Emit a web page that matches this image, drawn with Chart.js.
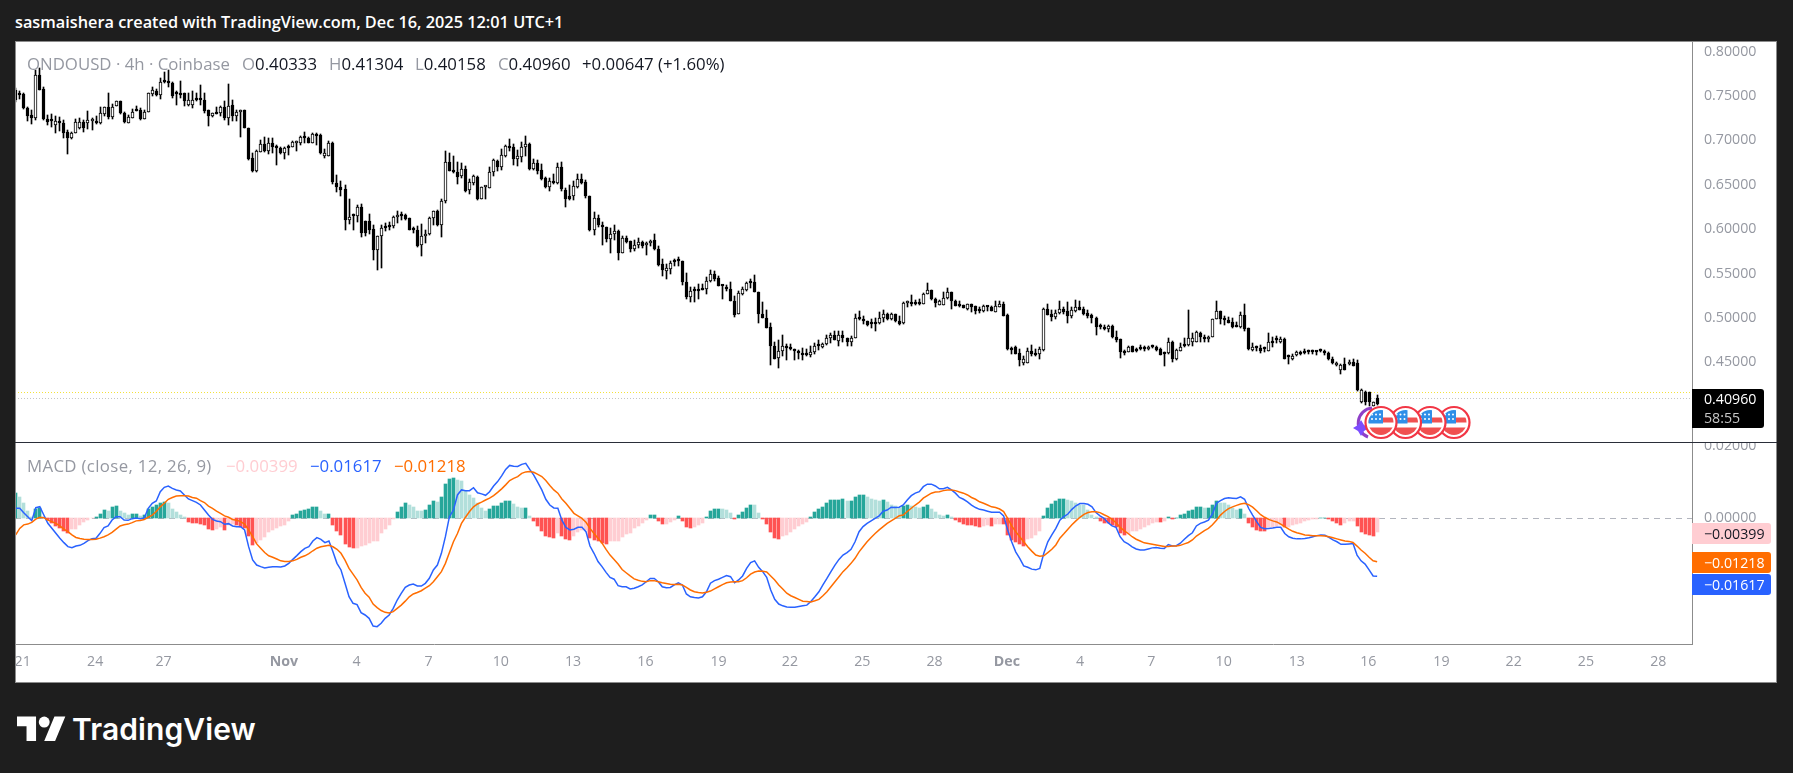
<!DOCTYPE html>
<html><head><meta charset="utf-8">
<script src="https://cdn.jsdelivr.net/npm/chart.js@4"></script>
<style>
html,body{margin:0;padding:0;background:#1e1e1e;width:1793px;height:773px;overflow:hidden;font-family:"Open Sans",sans-serif}
canvas{position:absolute;display:block}
.t{position:absolute;white-space:pre;line-height:1}
#box{position:absolute;left:15px;top:41px;width:1762px;height:642px;background:#fff;box-sizing:border-box}
.edge{position:absolute;background:#8c8c8c}
.tag{position:absolute;left:1692px;border-radius:0 3px 3px 0;font:14.2px "Open Sans",sans-serif;box-sizing:border-box;padding-left:12px}
.lg{font:16.8px "Open Sans",sans-serif;top:52px}
.lm{font:16.8px "Open Sans",sans-serif;top:454px}
</style></head><body>
<div id="box"></div>
<canvas id="priceC" width="1762" height="401" style="left:15px;top:41px"></canvas>
<canvas id="macdC" width="1762" height="241" style="left:15px;top:443px"></canvas>
<div class="edge" style="left:15px;top:41px;width:1762px;height:1px"></div>
<div class="edge" style="left:15px;top:682px;width:1762px;height:1px"></div>
<div class="edge" style="left:15px;top:41px;width:1px;height:642px"></div>
<div class="edge" style="left:1776px;top:41px;width:1px;height:642px"></div>
<div class="edge" style="left:15px;top:442px;width:1762px;height:1px;background:#2a2e39"></div>

<div class="t" style="left:15px;top:11px;color:#fff;font:600 16.3px 'Open Sans',sans-serif">sasmaishera created with TradingView.com, Dec 16, 2025 12:01 UTC+1</div>

<div class="t lg" style="left:27px;color:#9598a1">ONDOUSD · 4h · Coinbase</div>
<div class="t lg" style="left:242px;color:#9598a1">O<span style="color:#131722">0.40333</span></div>
<div class="t lg" style="left:329px;color:#9598a1">H<span style="color:#131722">0.41304</span></div>
<div class="t lg" style="left:415px;color:#9598a1">L<span style="color:#131722">0.40158</span></div>
<div class="t lg" style="left:498px;color:#9598a1">C<span style="color:#131722">0.40960</span></div>
<div class="t lg" style="left:582px;color:#131722">+0.00647 (+1.60%)</div>

<div class="t lm" style="left:27px;color:#9598a1;letter-spacing:.35px">MACD (close, 12, 26, 9)</div>
<div class="t lm" style="left:226px;color:#ffcdd2">−0.00399</div>
<div class="t lm" style="left:310px;color:#2962ff">−0.01617</div>
<div class="t lm" style="left:394px;color:#ff6d00">−0.01218</div>

<div class="tag" style="top:389px;width:72px;height:39px;background:#000;color:#fff">
  <div class="t" style="top:3px;left:12px">0.40960</div><div class="t" style="top:22px;left:12px;color:#c8c8c8">58:55</div>
</div>
<div class="tag" style="top:523px;width:79px;height:21px;background:#ffcdd2;color:#131722;line-height:21px">−0.00399</div>
<div class="tag" style="top:552px;width:79px;height:21px;background:#ff6d00;color:#fff;line-height:21px">−0.01218</div>
<div class="tag" style="top:574px;width:79px;height:21px;background:#2962ff;color:#fff;line-height:21px">−0.01617</div>

<svg style="position:absolute;left:1345px;top:400px" width="130" height="45" viewBox="1345 400 130 45" xmlns="http://www.w3.org/2000/svg">
  <defs>
    <g id="usflag">
      <circle r="15.5" fill="#fff" stroke="#f23645" stroke-width="2.2"/>
      <clipPath id="fc"><circle r="12.5"/></clipPath>
      <g clip-path="url(#fc)">
        <rect x="-13" y="-13" width="26" height="26" fill="#fff"/>
        <rect x="-13" y="-5" width="26" height="5" fill="#f05050"/>
        <rect x="-13" y="5" width="26" height="9" fill="#f05050"/>
        <rect x="-13" y="-13" width="15" height="14" fill="#2f8fe8"/>
        <g fill="#fff"><circle cx="-9" cy="-8" r="1"/><circle cx="-5" cy="-8" r="1"/><circle cx="-1" cy="-8" r="1"/><circle cx="-9" cy="-3.5" r="1"/><circle cx="-5" cy="-3.5" r="1"/><circle cx="-1" cy="-3.5" r="1"/></g>
      </g>
    </g>
  </defs>
  <path d="M1368 437 A15 15 0 0 1 1372 408" fill="none" stroke="#8e3fc8" stroke-width="3"/>
  <path d="M1361 420 L1364 425 L1369 428 L1364 431 L1361 436 L1358 431 L1353 428 L1358 425 Z" fill="#7c4dff"/>
  <use href="#usflag" x="1454" y="422.5"/>
  <use href="#usflag" x="1430" y="422.5"/>
  <use href="#usflag" x="1405.5" y="422.5"/>
  <use href="#usflag" x="1381" y="422.5"/>
</svg>

<svg style="position:absolute;left:17px;top:711px" width="49" height="33" viewBox="0 0 36 24" xmlns="http://www.w3.org/2000/svg" fill="#fff">
  <path d="M14 22H7V11H0V4h14v18zM28 22h-8l7.5-18h8L28 22z"/><circle cx="20" cy="8" r="4"/>
</svg>
<div class="t" style="left:72px;top:711px;color:#fff;font:600 30px Inter,sans-serif;letter-spacing:.1px">TradingView</div>

<script>
const highs=[
.7586,.7556,.7530,.7372,.7342,.7792,.7818,.7597,.7286,.7297,.7275,.7259,.7230,.7117,.7098,.7237,.7248,.7230,.7331,.7256,.7275,.7372,.7372,.7530,.7410,.7443,.7443,.7323,.7286,.7350,.7387,.7361,.7342,.7537,.7597,.7575,.7698,.7766,.7792,.7661,.7556,.7668,.7537,.7530,.7556,.7530,.7623,.7530,.7342,.7312,.7372,.7387,.7443,.7631,.7455,.7342,.7338,.7342,.7143,.6862,.6892,.7005,.7035,.7023,.7023,.6948,.6922,.6929,.6948,.6993,.6997,.7050,.7091,.7035,.7080,.7080,.7068,.6899,.6993,.6986,.6611,.6543,.6498,.6341,.6168,.6273,.6285,.6093,.6168,.6041,.5925,.6048,.6067,.6075,.6142,.6198,.6187,.6172,.6123,.6022,.6030,.6056,.5985,.6131,.6206,.6217,.6337,.6881,.6855,
.6824,.6753,.6742,.6712,.6562,.6610,.6599,.6472,.6487,.6697,.6787,.6779,.6899,.6948,.7011,.6955,.6892,.6978,.7049,.6966,.6787,.6779,.6730,.6584,.6580,.6622,.6749,.6757,.6460,.6498,.6543,.6622,.6622,.6547,.6374,.6194,.6157,.6082,.6022,.6010,.6044,.5984,.5917,.5924,.5868,.5879,.5898,.5871,.5860,.5879,.5947,.5811,.5662,.5609,.5639,.5665,.5684,.5643,.5504,.5346,.5346,.5384,.5384,.5459,.5542,.5527,.5467,.5373,.5369,.5403,.5242,.5298,.5346,.5407,.5440,.5485,.5290,.5178,.5092,.4942,.4728,.4754,.4810,.4709,.4709,.4649,.4642,.4660,.4649,.4687,.4717,.4754,.4717,.4810,.4829,.4852,.4855,.4855,.4773,.4799,.5046,.5080,.5017,.4968,.4990,.4998,.5069,.5092,.5054,.5054,.5046,.5017,
.5183,.5195,.5258,.5202,.5213,.5277,.5389,.5314,.5221,.5202,.5288,.5333,.5292,.5202,.5195,.5146,.5157,.5157,.5134,.5127,.5146,.5127,.5134,.5195,.5195,.5176,.5041,.4677,.4684,.4647,.4572,.4658,.4696,.4647,.4669,.5108,.5157,.5090,.5090,.5187,.5127,.5176,.5120,.5202,.5195,.5120,.5090,.5041,.5007,.4932,.4921,.4921,.4917,.4853,.4767,.4639,.4684,.4684,.4658,.4696,.4684,.4684,.4692,.4684,.4658,.4621,.4771,.4741,.4647,.4714,.4771,.5090,.4827,.4857,.4846,.4808,.4797,.4984,.5191,.5078,.5022,.5007,.4996,.4958,.5071,.5157,.4887,.4714,.4684,.4696,.4677,.4827,.4789,.4801,.4782,.4771,.4583,.4594,.4632,.4628,.4647,.4639,.4639,.4632,.4651,.4639,.4613,.4557,.4508,.4486,.4546,.4527,.4542,.4527,.4197,.4171,.4163,.4058,.41304];
const bodyHighs=[
.7567,.7530,.7518,.7361,.7286,.7736,.7736,.7575,.7241,.7230,.7218,.7200,.7192,.7091,.7080,.7203,.7203,.7203,.7230,.7230,.7218,.7304,.7372,.7372,.7380,.7443,.7443,.7304,.7259,.7323,.7357,.7342,.7323,.7530,.7563,.7560,.7661,.7672,.7672,.7642,.7526,.7530,.7530,.7455,.7455,.7466,.7466,.7455,.7338,.7304,.7312,.7372,.7372,.7391,.7398,.7323,.7338,.7338,.7143,.6798,.6884,.6956,.6956,.6967,.6967,.6922,.6911,.6911,.6926,.6986,.6986,.7042,.7042,.7023,.7076,.7076,.7061,.6862,.6967,.6967,.6517,.6472,.6450,.6134,.6153,.6247,.6247,.6086,.6086,.6000,.5917,.6011,.6022,.6030,.6134,.6161,.6161,.6153,.6120,.6000,.5985,.5917,.5943,.6123,.6198,.6206,.6311,.6753,.6753,
.6667,.6640,.6674,.6674,.6528,.6599,.6592,.6472,.6479,.6640,.6775,.6768,.6832,.6937,.6933,.6922,.6824,.6922,.6955,.6955,.6742,.6742,.6663,.6573,.6543,.6539,.6700,.6697,.6442,.6367,.6483,.6562,.6562,.6528,.6370,.6123,.6123,.6044,.6022,.5943,.5977,.5977,.5898,.5898,.5864,.5819,.5853,.5853,.5838,.5871,.5875,.5774,.5605,.5560,.5617,.5643,.5643,.5639,.5403,.5301,.5313,.5313,.5328,.5410,.5493,.5493,.5448,.5361,.5350,.5324,.5189,.5279,.5324,.5392,.5395,.5403,.5290,.5046,.4998,.4897,.4683,.4626,.4683,.4683,.4660,.4645,.4623,.4604,.4582,.4615,.4683,.4687,.4705,.4773,.4806,.4806,.4806,.4806,.4769,.4769,.4994,.4998,.4987,.4964,.4942,.4942,.4998,.5039,.5039,.5043,.5043,.4968,
.5165,.5183,.5176,.5176,.5176,.5270,.5314,.5311,.5209,.5195,.5225,.5288,.5288,.5191,.5146,.5146,.5153,.5157,.5131,.5097,.5138,.5127,.5127,.5134,.5157,.5157,.5033,.4662,.4673,.4602,.4538,.4625,.4625,.4602,.4651,.5097,.5097,.5045,.5052,.5097,.5097,.5082,.5090,.5120,.5120,.5097,.5052,.5030,.4996,.4909,.4902,.4909,.4906,.4790,.4760,.4628,.4677,.4681,.4639,.4658,.4654,.4669,.4681,.4677,.4647,.4602,.4726,.4733,.4639,.4677,.4696,.4771,.4775,.4838,.4834,.4790,.4790,.4984,.5074,.5074,.4984,.4973,.4951,.4921,.5030,.5030,.4883,.4670,.4666,.4658,.4658,.4726,.4726,.4752,.4760,.4763,.4565,.4576,.4613,.4610,.4621,.4625,.4625,.4625,.4632,.4632,.4602,.4542,.4490,.4467,.4486,.4497,.4505,.4490,.4182,.4163,.4160,.4047,.4096];
const bodyLows=[
.7455,.7511,.7361,.7278,.7256,.7256,.7567,.7237,.7211,.7222,.7173,.7192,.7087,.7023,.7023,.7080,.7143,.7143,.7200,.7222,.7196,.7200,.7297,.7267,.7267,.7391,.7304,.7203,.7200,.7256,.7335,.7237,.7237,.7323,.7522,.7511,.7511,.7657,.7642,.7503,.7518,.7514,.7447,.7402,.7398,.7458,.7458,.7335,.7275,.7275,.7301,.7304,.7248,.7248,.7275,.7275,.7316,.7136,.6791,.6656,.6652,.6873,.6881,.6881,.6922,.6918,.6862,.6862,.6918,.6929,.6967,.6967,.7027,.6967,.6967,.7053,.6862,.6824,.6828,.6525,.6472,.6442,.6104,.6097,.6146,.6142,.5954,.5954,.5992,.5767,.5767,.5925,.6007,.6022,.6030,.6131,.6149,.6112,.5992,.5992,.5804,.5823,.5917,.5947,.6123,.6048,.6048,.6311,.6656,
.6640,.6592,.6603,.6434,.6442,.6524,.6344,.6344,.6472,.6457,.6640,.6704,.6704,.6828,.6918,.6794,.6794,.6816,.6929,.6674,.6674,.6659,.6569,.6479,.6479,.6517,.6517,.6449,.6344,.6344,.6370,.6479,.6524,.6378,.5984,.5988,.6044,.6018,.5886,.5886,.5943,.5736,.5736,.5860,.5770,.5770,.5815,.5811,.5815,.5842,.5774,.5598,.5534,.5523,.5553,.5624,.5635,.5399,.5230,.5230,.5298,.5305,.5317,.5324,.5410,.5440,.5354,.5354,.5320,.5185,.5035,.5039,.5272,.5317,.5388,.5286,.5039,.4994,.4889,.4679,.4540,.4544,.4623,.4656,.4653,.4623,.4600,.4578,.4578,.4578,.4612,.4679,.4668,.4702,.4769,.4747,.4736,.4769,.4724,.4724,.4769,.4983,.4960,.4915,.4934,.4934,.4938,.4994,.4987,.4983,.4960,.4934,
.4940,.5165,.5157,.5157,.5157,.5157,.5266,.5209,.5172,.5150,.5146,.5221,.5191,.5138,.5138,.5116,.5105,.5127,.5078,.5082,.5082,.5120,.5082,.5071,.5127,.5026,.4647,.4639,.4594,.4527,.4497,.4497,.4594,.4587,.4591,.4639,.5037,.5015,.5007,.5052,.5071,.5026,.5026,.5082,.5090,.5045,.5022,.4996,.4902,.4894,.4872,.4872,.4782,.4752,.4610,.4602,.4617,.4621,.4628,.4647,.4647,.4647,.4669,.4639,.4583,.4591,.4602,.4542,.4542,.4632,.4684,.4696,.4733,.4733,.4782,.4767,.4767,.4786,.4984,.4984,.4973,.4947,.4898,.4902,.4902,.4876,.4647,.4636,.4662,.4632,.4651,.4632,.4718,.4748,.4733,.4542,.4557,.4538,.4580,.4598,.4602,.4617,.4617,.4617,.4625,.4602,.4535,.4497,.4467,.4411,.4411,.4478,.4463,.4182,.4051,.4058,.4047,.4013,.40333];
const lows=[
.7436,.7462,.7353,.7222,.7184,.7230,.7567,.7230,.7173,.7155,.7080,.7106,.7023,.6847,.7016,.7080,.7124,.7098,.7124,.7117,.7181,.7184,.7275,.7237,.7237,.7391,.7297,.7200,.7200,.7256,.7335,.7230,.7237,.7323,.7503,.7503,.7466,.7642,.7604,.7473,.7398,.7473,.7391,.7391,.7368,.7443,.7398,.7312,.7162,.7267,.7297,.7275,.7230,.7173,.7222,.7222,.7042,.7136,.6780,.6648,.6648,.6873,.6873,.6847,.6862,.6723,.6847,.6791,.6836,.6922,.6884,.6952,.6967,.6967,.6967,.6948,.6840,.6802,.6828,.6510,.6412,.6367,.5992,.6060,.5992,.6075,.5906,.5917,.5947,.5654,.5542,.5561,.5973,.5992,.6011,.6067,.6104,.6097,.5985,.5954,.5797,.5700,.5842,.5936,.6048,.6030,.5906,.6292,.6656,
.6629,.6509,.6580,.6423,.6397,.6498,.6322,.6344,.6340,.6457,.6599,.6655,.6667,.6816,.6884,.6723,.6712,.6757,.6824,.6667,.6667,.6622,.6554,.6460,.6430,.6509,.6509,.6427,.6254,.6329,.6329,.6460,.6509,.6351,.5973,.5935,.6018,.5823,.5857,.5736,.5879,.5654,.5736,.5842,.5744,.5755,.5782,.5789,.5710,.5804,.5767,.5587,.5467,.5440,.5497,.5579,.5579,.5373,.5215,.5182,.5174,.5215,.5309,.5272,.5399,.5418,.5354,.5215,.5298,.5185,.5005,.5039,.5260,.5298,.5335,.5286,.4938,.4994,.4882,.4465,.4533,.4432,.4566,.4521,.4634,.4529,.4537,.4521,.4574,.4555,.4597,.4642,.4664,.4698,.4717,.4747,.4687,.4729,.4679,.4679,.4769,.4979,.4934,.4912,.4885,.4848,.4926,.4949,.4979,.4972,.4957,.4923,
.4932,.5127,.5134,.5142,.5146,.5157,.5266,.5202,.5127,.5146,.5146,.5209,.5105,.5138,.5127,.5108,.5090,.5071,.5045,.5060,.5063,.5082,.5078,.5063,.5127,.5022,.4639,.4594,.4594,.4460,.4471,.4497,.4565,.4576,.4538,.4632,.5033,.4966,.4992,.5045,.5045,.4947,.4996,.5071,.5090,.5033,.4996,.4940,.4808,.4872,.4865,.4838,.4771,.4726,.4553,.4583,.4617,.4621,.4610,.4639,.4632,.4639,.4666,.4632,.4583,.4460,.4594,.4508,.4527,.4625,.4669,.4684,.4684,.4726,.4730,.4733,.4733,.4782,.4984,.4932,.4921,.4947,.4883,.4902,.4883,.4857,.4639,.4632,.4632,.4602,.4610,.4632,.4669,.4722,.4714,.4542,.4482,.4527,.4572,.4583,.4591,.4591,.4591,.4580,.4610,.4587,.4520,.4482,.4460,.4373,.4411,.4471,.4463,.4171,.4036,.4017,.4002,.4006,.40158];
const rising=[
0,0,0,0,0,1,0,0,0,0,1,0,0,0,1,1,1,0,1,1,0,1,1,0,1,1,0,0,1,1,0,0,1,1,1,0,1,0,0,0,0,0,0,1,1,0,0,0,0,1,0,1,0,1,0,1,1,0,0,0,1,1,0,1,0,0,0,1,0,1,1,1,0,0,1,0,0,1,1,0,0,0,0,1,0,1,0,0,0,0,1,1,0,0,1,1,0,0,0,0,0,1,1,1,1,0,1,1,0,
0,0,1,0,1,1,0,1,1,1,1,0,1,1,0,0,1,1,1,0,1,0,0,0,1,0,1,0,0,0,1,1,0,0,0,1,0,0,0,1,1,0,1,0,0,1,1,0,1,1,0,0,0,1,1,0,0,0,0,1,0,0,0,1,1,0,0,0,0,0,0,1,1,1,0,0,0,0,0,0,0,1,1,0,0,0,0,0,0,1,1,0,1,1,1,0,1,0,0,1,1,0,0,0,0,0,1,1,0,1,0,0,
1,1,0,0,0,1,1,0,0,1,1,1,0,0,0,0,1,0,0,0,1,0,0,1,1,0,0,0,0,0,1,1,0,0,1,1,0,0,1,1,0,0,1,1,0,0,0,0,0,0,0,1,0,0,0,0,1,0,0,0,0,1,0,0,0,0,1,0,1,1,0,1,1,1,0,0,1,1,1,0,0,0,0,0,1,0,0,1,0,0,0,1,0,0,1,0,0,1,1,0,0,0,0,0,0,0,0,0,1,1,0,1,0,0,1,0,0,1];
const macdLine=[
.00269,.00269,.00148,.00037,-.00074,.00287,.00315,.00083,-.00148,-.00287,-.00426,-.00565,-.00685,-.00796,-.00824,-.00778,-.00759,-.00704,-.0063,-.00574,-.00565,-.00426,-.00269,-.00222,-.00056,.00037,.00037,-.00056,-.00065,-.00019,0,-.00019,0,.00269,.00407,.00472,.00731,.00852,.00889,.00824,.00778,.0075,.00639,.00528,.00481,.00435,.00361,.00222,.00083,-.00037,-.00083,-.00102,-.00176,-.00157,-.00222,-.00241,-.00241,-.00333,-.00796,-.01167,-.01306,-.01352,-.01389,-.0137,-.01352,-.01352,-.01361,-.01333,-.01259,-.01148,-.01046,-.00935,-.00843,-.00796,-.00639,-.00546,-.00593,-.00685,-.00639,-.00935,-.01259,-.01444,-.01815,-.02185,-.0237,-.02407,-.0263,-.02694,-.02787,-.03,-.03019,-.02926,-.02787,-.02694,-.02509,-.02278,-.02093,-.01926,-.01861,-.01833,-.01889,-.01889,-.01815,-.01676,-.01444,-.01306,-.00981,-.00519,.00037,
.0022,.0064,.0078,.0076,.0076,.0084,.0070,.0067,.0063,.0073,.0089,.0101,.0117,.0135,.0146,.0144,.0143,.0149,.0152,.0135,.0119,.0099,.0078,.0052,.0036,.0028,.0027,-.0006,-.0026,-.0033,-.0031,-.0026,-.0026,-.0038,-.0078,-.0098,-.0121,-.0135,-.0151,-.0165,-.0170,-.0188,-.0191,-.0191,-.0197,-.0195,-.0191,-.0186,-.0177,-.0168,-.0168,-.0177,-.0191,-.0194,-.0193,-.0186,-.0180,-.0186,-.0211,-.0219,-.0221,-.0222,-.0219,-.0205,-.0181,-.0174,-.0170,-.0165,-.0160,-.0163,-.0180,-.0172,-.0161,-.0140,-.0124,-.0119,-.0137,-.0149,-.0165,-.0200,-.0226,-.0239,-.0244,-.0247,-.0248,-.0248,-.0246,-.0244,-.0242,-.0232,-.0219,-.0205,-.0186,-.0168,-.0149,-.0131,-.0115,-.0103,-.0096,-.0087,-.0066,-.0038,-.0024,-.0015,-.0008,-.0001,.0006,.0019,.0022,.0030,.0029,.0030,
.0036,.0050,.0062,.0069,.0073,.0087,.0094,.0094,.0089,.0081,.0081,.0085,.0078,.0069,.0057,.0052,.0045,.0036,.0029,.0024,.0022,.0019,.0016,.0016,.0016,.0006,-.0033,-.0066,-.0094,-.0112,-.0133,-.0137,-.0142,-.0144,-.0140,-.0098,-.0066,-.0047,-.0029,-.0006,.0004,.0011,.0024,.0034,.0040,.0040,.0038,.0031,.0015,.0006,-.0001,-.0013,-.0022,-.0026,-.0052,-.0066,-.0072,-.0080,-.0086,-.0089,-.0089,-.0086,-.0083,-.0082,-.0084,-.0085,-.0074,-.0078,-.0077,-.0070,-.0059,-.0049,-.0041,-.0022,-.0015,-.0011,-.0006,.0011,.0041,.0048,.0054,.0056,.0055,.0054,.0059,.0052,.0027,.0008,-.0010,-.0026,-.0030,-.0029,-.0028,-.0026,-.0026,-.0043,-.0052,-.0056,-.0058,-.0058,-.0057,-.0055,-.0052,-.0049,-.0047,-.0048,-.0054,-.0061,-.0066,-.0073,-.0073,-.0072,-.0071,-.0103,-.0119,-.0128,-.0144,-.0161,-.01617];
const signalLine=[
-.0047,-.0029,-.0019,-.0017,-.0012,-.0003,.0002,.0001,-.0006,-.0010,-.0015,-.0022,-.0031,-.0038,-.0047,-.0054,-.0057,-.0059,-.0060,-.0060,-.0059,-.0056,-.0052,-.0047,-.0040,-.0031,-.0022,-.0019,-.0017,-.0013,-.0008,-.0007,-.0004,.0002,.0008,.0018,.0031,.0041,.0052,.0057,.0061,.0062,.0062,.0061,.0057,.0055,.0048,.0043,.0033,.0027,.0019,.0013,.0006,.0002,-.0004,-.0006,-.0010,-.0017,-.0033,-.0052,-.0072,-.0084,-.0096,-.0105,-.0109,-.0114,-.0119,-.0121,-.0121,-.0119,-.0115,-.0109,-.0105,-.0099,-.0091,-.0084,-.0080,-.0078,-.0076,-.0080,-.0087,-.0098,-.0117,-.0140,-.0156,-.0172,-.0193,-.0209,-.0220,-.0239,-.0249,-.0257,-.0262,-.0264,-.0260,-.0251,-.0242,-.0231,-.0219,-.0211,-.0207,-.0202,-.0195,-.0188,-.0177,-.0163,-.0149,-.0126,-.0096,
-.0066,-.0043,-.0015,.0002,.0018,.0031,.0039,.0044,.0050,.0055,.0062,.0071,.0081,.0092,.0104,.0110,.0115,.0124,.0128,.0129,.0127,.0121,.0115,.0104,.0090,.0078,.0069,.0053,.0041,.0027,.0013,.0006,-.0001,-.0012,-.0029,-.0043,-.0056,-.0070,-.0087,-.0103,-.0115,-.0128,-.0143,-.0152,-.0161,-.0169,-.0173,-.0176,-.0177,-.0174,-.0174,-.0177,-.0180,-.0182,-.0184,-.0185,-.0184,-.0186,-.0193,-.0200,-.0205,-.0207,-.0208,-.0206,-.0203,-.0197,-.0191,-.0185,-.0180,-.0178,-.0177,-.0177,-.0174,-.0166,-.0156,-.0150,-.0147,-.0148,-.0150,-.0161,-.0172,-.0186,-.0197,-.0209,-.0216,-.0221,-.0226,-.0231,-.0232,-.0233,-.0230,-.0226,-.0216,-.0205,-.0191,-.0177,-.0163,-.0149,-.0138,-.0126,-.0112,-.0094,-.0080,-.0066,-.0054,-.0043,-.0033,-.0024,-.0015,-.0008,-.0001,.0006,
.0008,.0018,.0027,.0036,.0044,.0055,.0062,.0069,.0072,.0073,.0076,.0078,.0078,.0076,.0072,.0069,.0064,.0057,.0052,.0045,.0041,.0036,.0031,.0029,.0025,.0018,-.0001,-.0022,-.0038,-.0052,-.0066,-.0080,-.0092,-.0103,-.0106,-.0105,-.0096,-.0087,-.0075,-.0056,-.0044,-.0031,-.0019,-.0008,.0002,.0010,.0015,.0017,.0017,.0015,.0009,.0004,-.0004,-.0013,-.0026,-.0035,-.0043,-.0052,-.0059,-.0064,-.0069,-.0071,-.0073,-.0075,-.0077,-.0079,-.0079,-.0078,-.0078,-.0076,-.0072,-.0068,-.0061,-.0050,-.0043,-.0035,-.0029,-.0019,-.0006,.0008,.0018,.0026,.0031,.0035,.0039,.0041,.0037,.0030,.0020,.0009,.0002,-.0004,-.0008,-.0011,-.0017,-.0024,-.0031,-.0037,-.0041,-.0044,-.0047,-.0048,-.0049,-.0049,-.0049,-.0050,-.0052,-.0055,-.0058,-.0061,-.0064,-.0065,-.0068,-.0078,-.0089,-.0098,-.0109,-.0119,-.01218];
const histogram=[
.00694,.00583,.00417,.00204,.00037,.00259,.00278,.00028,-.00046,-.0013,-.00222,-.00278,-.00352,-.00426,-.00315,-.00296,-.00204,-.00111,-.00046,-.00009,.00028,.00111,.00231,.00204,.00296,.00343,.00185,.0013,.00093,.00111,.00111,.00056,.00074,.00259,.00306,.00352,.00407,.00444,.00407,.00259,.00167,.00074,.00019,-.00111,-.0013,-.00148,-.00157,-.00204,-.00296,-.00343,-.00315,-.00259,-.00333,-.00185,-.00167,-.00204,-.00241,-.00278,-.00509,-.00741,-.00694,-.00602,-.00537,-.00389,-.00343,-.00278,-.00231,-.00185,-.00093,.00074,.00111,.00204,.00231,.00241,.00296,.00315,.00204,.00111,.00111,-.00185,-.00352,-.00481,-.00722,-.00815,-.00833,-.00833,-.00787,-.00741,-.00694,-.00648,-.00648,-.00417,-.00296,-.00185,-.00028,.00167,.00296,.00417,.00352,.00296,.00204,.00185,.00222,.00352,.00463,.00444,.00574,.00944,.01074,
.01102,.01046,.01019,.00741,.0063,.00556,.00417,.00278,.00185,.0025,.00324,.00333,.00407,.00463,.00463,.00389,.00306,.00278,.00278,.00046,-.00074,-.00231,-.0037,-.00509,-.00537,-.00556,-.00417,-.00509,-.00574,-.00602,-.00509,-.00389,-.00324,-.00324,-.00556,-.00602,-.00648,-.00694,-.00713,-.00648,-.0063,-.0063,-.00537,-.00444,-.00407,-.00278,-.00222,-.00148,-.00056,.00074,.00074,-.00074,-.00167,-.00167,-.00111,-.00056,.00046,-.00074,-.00241,-.00278,-.00241,-.00204,-.0013,.00019,.00185,.00259,.00259,.0025,.00213,.0013,-.00037,.00074,.00167,.00278,.0037,.00352,.0013,-.00019,-.00167,-.00389,-.00556,-.00574,-.00509,-.00463,-.00389,-.00296,-.00231,-.00167,-.00111,.00019,.00167,.00241,.00306,.00426,.00491,.005,.00509,.00519,.00463,.00463,.00574,.0063,.0063,.00574,.00519,.005,.00481,.00491,.00444,.0037,.00324,.00278,
.00333,.00352,.00333,.00306,.00278,.00306,.00352,.00259,.00167,.00074,.00046,.00083,.00028,-.00056,-.00111,-.00167,-.00185,-.00204,-.00231,-.00259,-.00231,-.00204,-.00213,-.00167,-.00157,-.00176,-.00463,-.00602,-.00667,-.00722,-.00787,-.00574,-.00556,-.00481,-.00352,.00056,.00278,.00389,.00463,.00528,.00537,.005,.00463,.00426,.0037,.00352,.00231,.00093,.00028,-.00074,-.0013,-.00139,-.00204,-.00259,-.00417,-.00463,-.00444,-.0037,-.00352,-.00296,-.00259,-.00185,-.0013,-.00111,-.00118,-.00093,.00037,-.00037,.00009,.00074,.0012,.00185,.00222,.00296,.00306,.00278,.00278,.00352,.00463,.00426,.00417,.00352,.00278,.00231,.00241,.00111,-.0013,-.00241,-.00324,-.0037,-.00375,-.00259,-.00259,-.00231,-.00204,-.0025,-.00241,-.00204,-.00167,-.0013,-.00093,-.00056,-.00037,-.00019,.00009,.00009,-.00028,-.00093,-.0013,-.00185,-.0013,-.00093,-.00083,-.00231,-.00398,-.00444,-.00481,-.0049,-.00399];
const priceTicks=[.8,.75,.7,.65,.6,.55,.5,.45];
const macdTicks=[.02,0,-.02];
const lastClose=.4096;
const dottedLevel=.4166;
const dateLabels=["21","24","27","Nov","4","7","10","13","16","19","22","25","28","Dec","4","7","10","13","16","19","22","25","28"];
const dateIndex=[1.75,19.8,36.8,66.8,84.9,102.8,120.8,138.8,156.8,175,192.8,210.8,228.8,246.8,265,282.8,300.8,319,336.8,355,373,391,409];

const PX_PER_BAR=4.016, FIRST_X=15.7;
const xMin=(15-FIRST_X)/PX_PER_BAR, xMax=(1692-FIRST_X)/PX_PER_BAR;
const idx=highs.map((_,i)=>i);
const axisFont={family:'"Open Sans",sans-serif',size:14.2};
const axisCol='#9598a1';
const fitRight=s=>{s.width=85;s.paddingTop=0;s.paddingBottom=0;s.paddingLeft=0;s.paddingRight=0;};
const fitBottom=s=>{s.height=40;s.paddingLeft=0;s.paddingRight=0;s.paddingTop=0;s.paddingBottom=0;};

const wicks=idx.map(i=>({x:i,y:[lows[i],highs[i]]}));
const bodies=idx.map(i=>({x:i,y:[bodyLows[i],bodyHighs[i]]}));

/* keep bars on whole pixels so candle bodies stay crisp */
const crisp={id:'crisp',afterDatasetsUpdate(c){
  c.data.datasets.forEach((d,n)=>{const m=c.getDatasetMeta(n);if(m.type!=='bar')return;
    m.data.forEach(el=>{el.x=Math.round(el.x-.5)+.5;el.y=Math.round(el.y);el.base=Math.round(el.base);});});}};

const levelLines={id:'levels',beforeDatasetsDraw(c){
  const g=c.ctx,a=c.chartArea,y=c.scales.y;
  g.save();g.lineWidth=1;g.setLineDash([1,2]);
  [[dottedLevel,'#f4e23a'],[lastClose,'#c4c4c4']].forEach(([v,col])=>{
    const p=Math.round(y.getPixelForValue(v))+.5;
    g.strokeStyle=col;g.beginPath();g.moveTo(a.left,p);g.lineTo(a.right,p);g.stroke();});
  g.restore();}};

new Chart(document.getElementById('priceC'),{
  type:'bar',
  data:{datasets:[
    {data:wicks,barThickness:1,backgroundColor:'#000',grouped:false,order:2},
    {data:bodies,barThickness:3,grouped:false,order:1,minBarLength:2,borderWidth:1,borderColor:'#000',borderSkipped:false,
     backgroundColor:idx.map(i=>rising[i]?'#fff':'#000')}
  ]},
  plugins:[levelLines,crisp],
  options:{responsive:false,animation:false,devicePixelRatio:1,events:[],
    layout:{padding:0},
    plugins:{legend:{display:false},tooltip:{enabled:false}},
    scales:{
      x:{type:'linear',offset:false,min:xMin,max:xMax,display:false},
      y:{position:'right',offset:false,min:.3602,max:.8118,afterFit:fitRight,
        afterBuildTicks(s){s.ticks=priceTicks.map(v=>({value:v}));},
        grid:{display:false},
        border:{display:true,color:'#8c8c8c'},
        ticks:{padding:4,color:axisCol,font:axisFont,callback:v=>v.toFixed(5)}}
    }}
});

const zeroLine={id:'zero',beforeDatasetsDraw(c){
  const g=c.ctx,a=c.chartArea,p=Math.round(c.scales.y.getPixelForValue(0))+.5;
  g.save();g.strokeStyle='#b2b5be';g.lineWidth=1;g.setLineDash([6,5]);
  g.beginPath();g.moveTo(a.left,p);g.lineTo(a.right,p);g.stroke();g.restore();}};
const histColor=i=>{const v=histogram[i],up=i===0||v>=histogram[i-1];
  return v>=0?(up?'#26a69a':'#b2dfdb'):(up?'#ffcdd2':'#ff5252');};

new Chart(document.getElementById('macdC'),{
  type:'bar',
  data:{datasets:[
    {type:'bar',data:idx.map(i=>({x:i,y:histogram[i]})),barThickness:3,grouped:false,order:3,backgroundColor:idx.map(histColor)},
    {type:'line',data:idx.map(i=>({x:i,y:macdLine[i]})),borderColor:'#2962ff',borderWidth:1.5,pointRadius:0,tension:0,order:2},
    {type:'line',data:idx.map(i=>({x:i,y:signalLine[i]})),borderColor:'#ff6d00',borderWidth:1.5,pointRadius:0,tension:0,order:1}
  ]},
  plugins:[zeroLine,crisp],
  options:{responsive:false,animation:false,devicePixelRatio:1,events:[],
    layout:{padding:0},
    plugins:{legend:{display:false},tooltip:{enabled:false}},
    scales:{
      x:{type:'linear',offset:false,min:xMin,max:xMax,
        afterFit:fitBottom,
        afterBuildTicks(s){s.ticks=dateIndex.map(v=>({value:v}));},
        grid:{display:false,offset:false},
        border:{display:true,color:'#8c8c8c'},
        ticks:{autoSkip:false,maxRotation:0,minRotation:0,padding:1,color:axisCol,
          callback:(v,i)=>dateLabels[i],
          font:c=>{const l=dateLabels[c.index];return {...axisFont,weight:(l==='Nov'||l==='Dec')?'700':'400'};}}},
      y:{position:'right',offset:false,min:-.035,max:.02083,afterFit:fitRight,
        afterBuildTicks(s){s.ticks=macdTicks.map(v=>({value:v}));},
        grid:{display:false},
        border:{display:true,color:'#8c8c8c'},
        ticks:{padding:4,color:axisCol,font:axisFont,callback:v=>(v<0?'−':'')+Math.abs(v).toFixed(5)}}
    }}
});
</script>
</body></html>
